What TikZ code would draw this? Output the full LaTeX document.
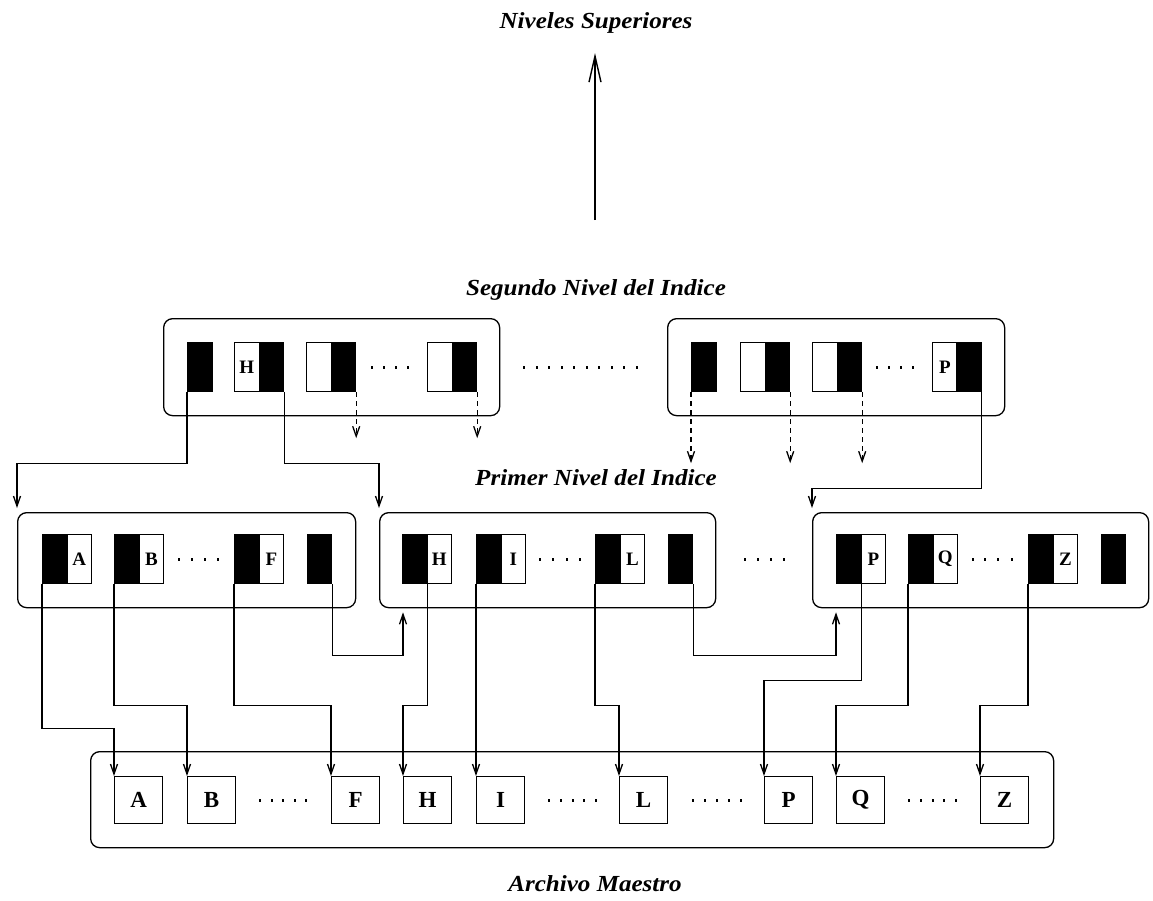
\documentclass[tikz,border=0pt]{standalone}
\usepackage{fontspec}
\setmainfont{Liberation Serif}
\usetikzlibrary{arrows.meta}

\newcommand\lblfont{\fontsize{23}{26}\selectfont\bfseries\itshape}
\newcommand\idxfont{\fontsize{19}{19}\selectfont\bfseries}
\newcommand\recfont{\fontsize{23}{23}\selectfont\bfseries}
\newcommand\lblwide[1]{\scalebox{1.09}[1]{#1}}

\tikzset{
  panel/.style={draw, line width=1.3pt, rounded corners=9pt, inner sep=0pt, anchor=north west},
  blk/.style={draw, fill=black, line width=1.2pt, minimum width=24.5pt, minimum height=49pt,
              inner sep=0pt, anchor=north west},
  wht/.style={draw, fill=white, line width=1.2pt, minimum width=24.5pt, minimum height=49pt,
              inner sep=0pt, anchor=north west, font=\idxfont},
  rec/.style={draw, line width=1.2pt, minimum width=48pt, minimum height=47pt,
              inner sep=0pt, anchor=north west, font=\recfont},
  lbl/.style={anchor=base, font=\lblfont, inner sep=0pt},
  conn/.style={line width=1.3pt, -{Straight Barb[length=10pt,width=7pt]}},
  dconn/.style={conn, dash pattern=on 5pt off 4pt},
  bigarr/.style={line width=1.4pt, -{Straight Barb[length=26pt,width=12pt]}}
}

\begin{document}
\begin{tikzpicture}[x=1pt, y=-1pt]
\useasboundingbox (0,0) rectangle (1153,900);
\fill[white] (0,0) rectangle (1153,900);

% ---------- titles ----------
\node[lbl] (lsup) at (596,28)  {\lblwide{Niveles Superiores}};
\node[lbl] (lseg) at (596,295) {\lblwide{Segundo Nivel del Indice}};
\node[lbl] (lpri) at (596,485) {\lblwide{Primer Nivel del Indice}};
\node[lbl] (lmae) at (595,891) {\lblwide{Archivo Maestro}};

% arrow towards the upper levels
\coordinate (upfoot) at (595,220);
\coordinate (uptip)  at (595,53);
\draw[bigarr] (upfoot) -- (uptip);

% ---------- containers ----------
\node[panel, minimum width=336pt, minimum height=97pt] (T1) at (163,318) {};
\node[panel, minimum width=337pt, minimum height=97pt] (T2) at (667,318) {};
\node[panel, minimum width=338pt, minimum height=95pt] (P1) at (17,512)  {};
\node[panel, minimum width=336pt, minimum height=95pt] (P2) at (379,512) {};
\node[panel, minimum width=336pt, minimum height=95pt] (P3) at (812,512) {};
\node[panel, minimum width=963pt, minimum height=96pt] (M)  at (90,751)  {};

% ---------- second level: key + pointer ----------
\node[blk] (t1a)  at (187,342)   {};
\node[wht] (t1b)  at (234,342)   {H};
\node[blk] (t1bk) at (258.5,342) {};
\node[wht] (t1c)  at (306,342)   {};
\node[blk] (t1ck) at (330.5,342) {};
\node[wht] (t1d)  at (427,342)   {};
\node[blk] (t1dk) at (451.5,342) {};

\node[blk] (t2a)  at (691,342)   {};
\node[wht] (t2b)  at (740,342)   {};
\node[blk] (t2bk) at (764.5,342) {};
\node[wht] (t2c)  at (812,342)   {};
\node[blk] (t2ck) at (836.5,342) {};
\node[wht] (t2d)  at (932,342)   {P};
\node[blk] (t2dk) at (956,342)   {};

% ---------- first level: pointer + key ----------
\node[blk] (pAk) at (42,534)    {};
\node[wht] (pA)  at (66.5,534)  {A};
\node[blk] (pBk) at (114,534)   {};
\node[wht] (pB)  at (138.5,534) {B};
\node[blk] (pFk) at (234,534)   {};
\node[wht] (pF)  at (258.5,534) {F};
\node[blk] (pE1) at (306.5,534) {};

\node[blk] (pHk) at (402,534)   {};
\node[wht] (pH)  at (426.5,534) {H};
\node[blk] (pIk) at (476,534)   {};
\node[wht] (pI)  at (500.5,534) {I};
\node[blk] (pLk) at (595,534)   {};
\node[wht] (pL)  at (619.5,534) {L};
\node[blk] (pE2) at (667.5,534) {};

\node[blk] (pPk) at (836,534)    {};
\node[wht] (pP)  at (860.5,534)  {P};
\node[blk] (pQk) at (908,534)    {};
\node[wht] (pQ)  at (932.5,534)  {Q};
\node[blk] (pZk) at (1028,534)   {};
\node[wht] (pZ)  at (1052.5,534) {Z};
\node[blk] (pE3) at (1100.5,534) {};

% ---------- master file records ----------
\node[rec] (mA) at (114,776) {A};
\node[rec] (mB) at (187,776) {B};
\node[rec] (mF) at (331,776) {F};
\node[rec] (mH) at (403,776) {H};
\node[rec] (mI) at (476,776) {I};
\node[rec] (mL) at (619,776) {L};
\node[rec] (mP) at (764,776) {P};
\node[rec] (mQ) at (836,776) {Q};
\node[rec] (mZ) at (980,776) {Z};

% ---------- ellipses ----------
\foreach \x in {372,384,396,408,877,889,901,913} \fill (\x-1,365.5) rectangle ++(2,3);
\foreach \x in {524,536.5,549,561.5,574,586.5,599,611.5,624,636.5} \fill (\x-1,365.5) rectangle ++(2,3);
\foreach \x in {179,192,205,218,540,553,567,580,745,758,771,784,973,985,998,1012}
  \fill (\x-1,557.5) rectangle ++(2,3);
\foreach \x in {260,271.5,283,294.5,306,549,561,573,584,596,693,705,717,729,741,909,921,933,944,956}
  \fill (\x-1,798.5) rectangle ++(2,3);

% ---------- second level -> first level ----------
\draw[conn] (t1a.south west)  -- ++(0,71) -| ([yshift=4pt]P1.north west);
\draw[conn] (t1bk.south east) -- ++(0,71) -| ([yshift=4pt]P2.north west);
\draw[conn] (t2dk.south east) -- ++(0,96) -| ([yshift=4pt]P3.north west);

\draw[dconn] (t1ck.south east) -- ++(0,46);
\draw[dconn] (t1dk.south east) -- ++(0,46);
\draw[dconn] (t2a.south west)  -- ++(0,71);
\draw[dconn] (t2bk.south east) -- ++(0,71);
\draw[dconn] (t2ck.south east) -- ++(0,71);

% ---------- first level -> master file ----------
\coordinate (in2) at (mH.north west |- P2.south);
\coordinate (in3) at (pPk.south west |- P3.south);

\draw[conn] (pAk.south west) -- ++(0,144) -| (mA.north west);
\draw[conn] (pBk.south west) -- ++(0,121) -| (mB.north west);
\draw[conn] (pFk.south west) -- ++(0,121) -| (mF.north west);
\draw[conn] (pE1.south east) -- ++(0,71)  -| ([yshift=-4pt]in2);
\draw[conn] (pHk.south east) -- ++(0,121) -| (mH.north west);
\draw[conn] (pIk.south west) -- (mI.north west);
\draw[conn] (pLk.south west) -- ++(0,121) -| (mL.north west);
\draw[conn] (pE2.south east) -- ++(0,71)  -| ([yshift=-4pt]in3);
\draw[conn] (pPk.south east) -- ++(0,96)  -| (mP.north west);
\draw[conn] (pQk.south west) -- ++(0,121) -| (mQ.north west);
\draw[conn] (pZk.south west) -- ++(0,121) -| (mZ.north west);
\end{tikzpicture}
\end{document}
